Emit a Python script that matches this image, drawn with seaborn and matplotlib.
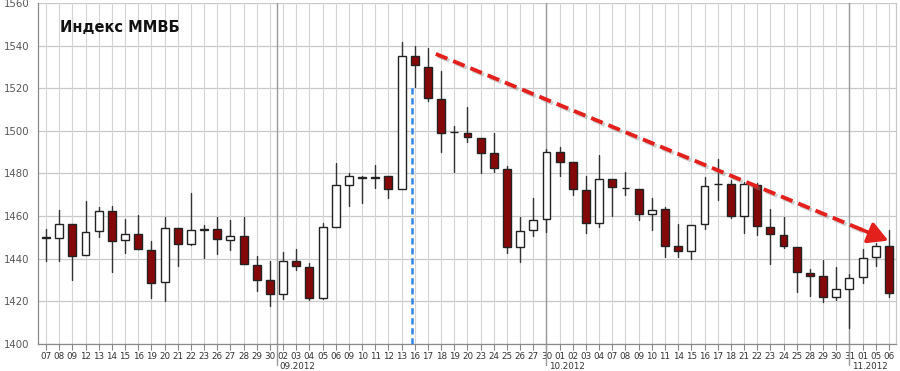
import numpy as np
import pandas as pd
import matplotlib
matplotlib.use("Agg")
import matplotlib.pyplot as plt
import matplotlib.patheffects as pe
from matplotlib.transforms import blended_transform_factory
import seaborn as sns

# ---------------- data ----------------
day_labels = ["07", "08", "09", "12", "13", "14", "15", "16", "19", "20", "21", "22", "23", "26", "27", "28", "29", "30",
              "02", "03", "04", "05", "06", "09", "10", "11", "12", "13", "16", "17", "18", "19", "20", "23", "24", "25", "26", "27",
              "30",
              "01", "02", "03", "04", "07", "08", "09", "10", "11", "14", "15", "16", "17", "18", "21", "22", "23", "24", "25",
              "28", "29", "30", "31",
              "01", "05", "06"]
opens = [1450.4, 1449.6, 1456.3, 1441.9, 1452.9, 1462.4, 1448.7, 1451.6, 1444.1, 1429.0,
         1454.3, 1446.9, 1453.6, 1453.8, 1448.7, 1450.5, 1437.1, 1429.9, 1423.3, 1439.0,
         1436.3, 1421.8, 1455.1, 1474.6, 1478.1, 1478.1, 1478.6, 1472.8, 1535.2, 1530.2,
         1515.0, 1499.3, 1499.2, 1496.6, 1489.5, 1482.2, 1445.4, 1453.5, 1458.5, 1490.0,
         1485.3, 1472.3, 1457.0, 1477.3, 1473.3, 1472.8, 1461.2, 1463.2, 1446.0, 1443.5,
         1456.2, 1475.0, 1475.1, 1460.1, 1474.6, 1455.1, 1451.2, 1445.7, 1433.2, 1431.9,
         1422.2, 1426.0, 1431.3, 1440.7, 1446.2]
highs = [1453.8, 1462.9, 1456.3, 1467.3, 1464.5, 1464.9, 1458.7, 1460.6, 1448.5, 1459.5,
         1454.3, 1471.0, 1455.7, 1459.8, 1458.2, 1459.8, 1441.3, 1439.0, 1443.3, 1444.4,
         1437.9, 1457.0, 1484.8, 1480.1, 1478.6, 1484.0, 1478.6, 1541.6, 1539.6, 1539.1,
         1527.9, 1502.3, 1511.0, 1496.6, 1499.2, 1483.6, 1459.5, 1468.4, 1491.4, 1492.3,
         1485.3, 1478.6, 1488.7, 1477.3, 1480.9, 1472.8, 1468.7, 1464.2, 1456.3, 1455.9,
         1478.2, 1486.7, 1477.0, 1476.2, 1475.4, 1463.2, 1459.8, 1445.7, 1435.1, 1439.4,
         1436.3, 1432.7, 1444.4, 1447.3, 1453.5]
lows = [1439.1, 1439.1, 1430.0, 1441.9, 1450.2, 1433.6, 1442.9, 1444.4, 1421.8, 1420.2,
        1436.6, 1446.5, 1440.2, 1442.1, 1444.1, 1437.4, 1425.0, 1418.0, 1421.1, 1434.6,
        1420.7, 1421.1, 1455.1, 1464.9, 1466.0, 1473.1, 1468.4, 1472.8, 1520.5, 1514.1,
        1490.0, 1480.9, 1495.0, 1480.1, 1480.9, 1442.6, 1438.5, 1450.7, 1452.7, 1478.6,
        1470.0, 1452.0, 1454.8, 1460.1, 1470.0, 1458.2, 1453.5, 1440.7, 1440.7, 1439.9,
        1454.1, 1467.6, 1459.0, 1452.0, 1451.2, 1437.6, 1444.9, 1424.6, 1422.5, 1419.9,
        1420.7, 1407.7, 1428.8, 1436.8, 1422.2]
closes = [1449.8, 1456.3, 1441.3, 1452.4, 1462.3, 1448.5, 1451.8, 1444.4, 1428.8, 1454.3,
          1446.9, 1453.4, 1453.8, 1449.1, 1450.5, 1437.4, 1430.2, 1423.3, 1439.0, 1436.8,
          1421.8, 1454.8, 1474.5, 1478.6, 1478.3, 1478.3, 1472.8, 1535.2, 1530.7, 1515.2,
          1499.2, 1499.5, 1497.0, 1489.8, 1482.8, 1445.4, 1453.1, 1458.2, 1490.0, 1485.6,
          1472.8, 1457.0, 1477.3, 1473.9, 1473.1, 1461.2, 1462.8, 1446.2, 1443.5, 1455.9,
          1474.3, 1475.2, 1460.1, 1475.0, 1455.6, 1451.6, 1446.2, 1433.6, 1432.1, 1422.2,
          1425.7, 1430.8, 1440.2, 1446.2, 1423.8]
month_labels = ["09.2012", "10.2012", "11.2012"]
month_breaks = [17.5, 38, 61]
title_text = "Индекс ММВБ"
y_ticks = [1400, 1420, 1440, 1460, 1480, 1500, 1520, 1540, 1560]
blue_line = (27.77, 1400, 1520.5)          # x, y from, y to
red_arrow = ((29.6, 1536.1), (63.96, 1448.5))  # start, tip

# ---------------- figure ----------------
sns.set_theme(style="white")
plt.rcParams["font.family"] = ["DejaVu Sans"]

fig = plt.figure(figsize=(9, 3.71), dpi=100)
ax = fig.add_axes([38 / 900, 27 / 371, (896 - 38) / 900, (344 - 3) / 371])

n = len(day_labels)
xs = np.arange(n)
df = pd.DataFrame({"x": xs, "open": opens, "high": highs, "low": lows, "close": closes})

# grid
for v in y_ticks:
    ax.axhline(v, color="#c9c9c9", lw=0.9, zorder=0)
for x in xs:
    ax.axvline(x, color="#d4d4d4", lw=0.8, zorder=0)

# wicks via seaborn lineplot (one unit per candle)
wick = pd.DataFrame({
    "x": np.repeat(xs, 2),
    "y": np.ravel(np.column_stack([df["low"], df["high"]])),
    "u": np.repeat(xs, 2),
})
sns.lineplot(data=wick, x="x", y="y", units="u", estimator=None, sort=False,
             color="#333333", lw=1.0, ax=ax, zorder=2, legend=False)

# bodies
up = df["close"] >= df["open"]
bottoms = np.minimum(df["open"], df["close"])
heights = np.maximum(np.abs(df["close"] - df["open"]), 0.15)
colors = np.where(up, "#ffffff", "#850808")
ax.bar(xs, heights, bottom=bottoms, width=0.6, color=colors, edgecolor="#222222",
       linewidth=1.0, zorder=3)

# blue dashed vertical line
ax.plot([blue_line[0], blue_line[0]], [blue_line[1], blue_line[2]], color="#2f86e6",
        lw=1.8, ls=(0, (2.5, 1.5)), zorder=4)

# red dashed arrow
(x0, y0), (x1, y1) = red_arrow
frac = 0.955
xm, ym = x0 + (x1 - x0) * frac, y0 + (y1 - y0) * frac
shadow = [pe.SimpleLineShadow(offset=(1.5, -1.5), shadow_color="#888888", alpha=0.4), pe.Normal()]
ax.plot([x0, xm], [y0, ym], color="#e3201b", lw=2.8, ls=(0, (3.2, 1.6)), zorder=5,
        solid_capstyle="butt", path_effects=shadow)
ax.annotate("", xy=(x1, y1), xytext=(x0 + (x1 - x0) * 0.94, y0 + (y1 - y0) * 0.94),
            arrowprops=dict(arrowstyle="-|>,head_length=1.0,head_width=0.55", color="#e3201b",
                            lw=2.6, shrinkA=0, shrinkB=0), zorder=6)

# title
ax.text(0.0256, 0.927, title_text, transform=ax.transAxes, fontsize=10.5,
        fontweight="bold", color="#111111", va="center", ha="left", zorder=7)

# axes limits and ticks
ax.set_xlim(-0.61, 64.54)
ax.set_ylim(1400, 1560)
ax.set_xticks(xs)
ax.set_xticklabels(day_labels, fontsize=6.3, color="#333333")
ax.set_yticks(y_ticks)
ax.set_yticklabels([str(v) for v in y_ticks], fontsize=7.3, color="#555555")
ax.tick_params(axis="x", length=4, width=0.8, color="#888888", pad=1.5, direction="out", bottom=True)
ax.tick_params(axis="y", length=0, pad=6)
ax.set_xlabel("")
ax.set_ylabel("")

for side in ["left", "bottom"]:
    ax.spines[side].set_color("#8a8a8a")
    ax.spines[side].set_linewidth(0.9)
ax.spines["top"].set_visible(False)
ax.spines["right"].set_color("#c9c9c9")
ax.spines["right"].set_linewidth(0.9)

# month separators + labels
trans = blended_transform_factory(ax.transData, ax.transAxes)
for xb, lab in zip(month_breaks, month_labels):
    ax.plot([xb, xb], [-0.062, 1.0], transform=trans, color="#9a9a9a", lw=1.0,
            clip_on=False, zorder=1)
    ax.text(xb + 0.2, -0.053, lab, transform=trans, fontsize=6.3, color="#333333",
            ha="left", va="top")

fig.savefig("out.png", dpi=100)
